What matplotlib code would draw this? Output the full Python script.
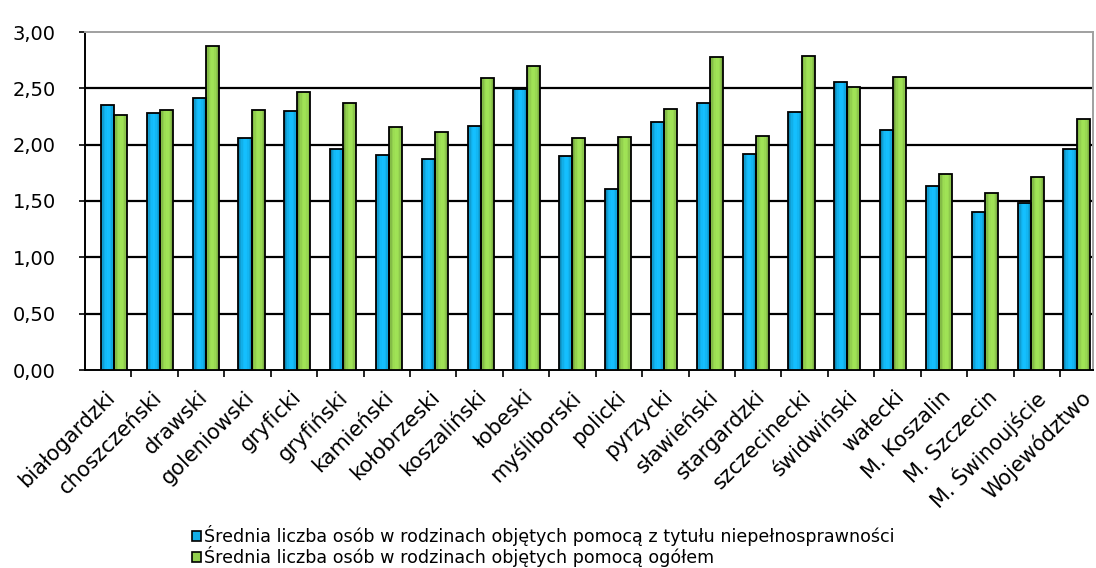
import matplotlib.pyplot as plt
from matplotlib.patches import Patch
import matplotlib.colors as mcolors
import numpy as np

# data
powiaty = ['białogardzki', 'choszczeński', 'drawski', 'goleniowski', 'gryficki',
           'gryfiński', 'kamieński', 'kołobrzeski', 'koszaliński', 'łobeski',
           'myśliborski', 'policki', 'pyrzycki', 'sławieński', 'stargardzki',
           'szczecinecki', 'świdwiński', 'wałecki', 'M. Koszalin', 'M. Szczecin',
           'M. Świnoujście', 'Województwo']
niepelnospr = [2.35, 2.28, 2.41, 2.06, 2.30, 1.96, 1.91, 1.87, 2.17, 2.49,
               1.90, 1.61, 2.20, 2.37, 1.92, 2.29, 2.56, 2.13, 1.63, 1.40,
               1.48, 1.96]
ogolem = [2.26, 2.31, 2.88, 2.31, 2.47, 2.37, 2.16, 2.11, 2.59, 2.70,
          2.06, 2.07, 2.32, 2.78, 2.08, 2.79, 2.51, 2.60, 1.74, 1.57,
          1.71, 2.23]
yticks = [0, 0.5, 1.0, 1.5, 2.0, 2.5, 3.0]
leg1 = 'Średnia liczba osób w rodzinach objętych pomocą z tytułu niepełnosprawności'
leg2 = 'Średnia liczba osób w rodzinach objętych pomocą ogółem'

blue = '#12AEE8'
green = '#92CF4E'

W, H = 1096, 568
fig = plt.figure(figsize=(W / 100, H / 100), dpi=100)
# axes box in pixels: back wall 85..1093 x, 32..370 y
ax = fig.add_axes([85 / W, 1 - 370 / H, (1093 - 85) / W, (370 - 32) / H])

x = np.arange(len(powiaty))
bw = 0.285
nstripe = 9


def cylinder(left, vals, col):
    # fake cylinder: a few narrow bars with changing shade, then black outline
    c = np.array(mcolors.to_rgb(col))
    for j in range(nstripe):
        t = (j + 0.5) / nstripe
        k = 0.55 + 0.55 * np.sin(np.pi * (0.1 + 0.75 * t))
        ax.bar(left + j * bw / nstripe, vals, bw / nstripe, align='edge',
               color=np.clip(c * k, 0, 1), linewidth=0, zorder=3)
    ax.bar(left, vals, bw, align='edge', fill=False, edgecolor='black',
           linewidth=1.3, zorder=4)


cylinder(x - bw, niepelnospr, blue)
cylinder(x, ogolem, green)

ax.set_xlim(-0.633, len(powiaty) - 1 + 0.36)
ax.set_ylim(0, 3)

# grid
for v in yticks[1:-1]:
    ax.axhline(v, color='black', linewidth=1.6, zorder=1)

ax.set_yticks(yticks)
ax.set_yticklabels([f'{v:.2f}'.replace('.', ',') for v in yticks],
                   fontsize=14, family='DejaVu Sans')
ax.tick_params(axis='y', length=4, width=1.2, direction='out', pad=17)

# front-edge ticks (category width 46.4 px at the front, 45.8 px at the back)
front = lambda px: (px - 114) / 45.8
ax.set_xticks([front(85 + 46.4 * i) for i in range(1, len(powiaty))])
ax.set_xticklabels([])
ax.tick_params(axis='x', length=5, width=1.2, direction='out')

for i, name in enumerate(powiaty):
    ax.text(front(105 + 46.4 * i), -0.15, name, rotation=45, ha='right', va='top',
            rotation_mode='anchor', fontsize=15, family='DejaVu Sans')

ax.spines['left'].set_linewidth(1.4)
ax.spines['bottom'].set_linewidth(1.4)
ax.spines['top'].set_color('#a0a0a0')
ax.spines['right'].set_color('#a0a0a0')
ax.spines['top'].set_linewidth(1.4)
ax.spines['right'].set_linewidth(1.4)

handles = [Patch(facecolor=blue, edgecolor='black', linewidth=1.2, label=leg1),
           Patch(facecolor=green, edgecolor='black', linewidth=1.2, label=leg2)]
fig.legend(handles=handles, loc='upper left', bbox_to_anchor=(192 / W, 1 - 525 / H),
           frameon=False, handlelength=0.5, handleheight=0.5, handletextpad=0.2,
           labelspacing=0.0, borderaxespad=0, borderpad=0,
           prop={'family': 'DejaVu Sans', 'size': 12.6})

fig.savefig('out.png', dpi=100, facecolor='white')
